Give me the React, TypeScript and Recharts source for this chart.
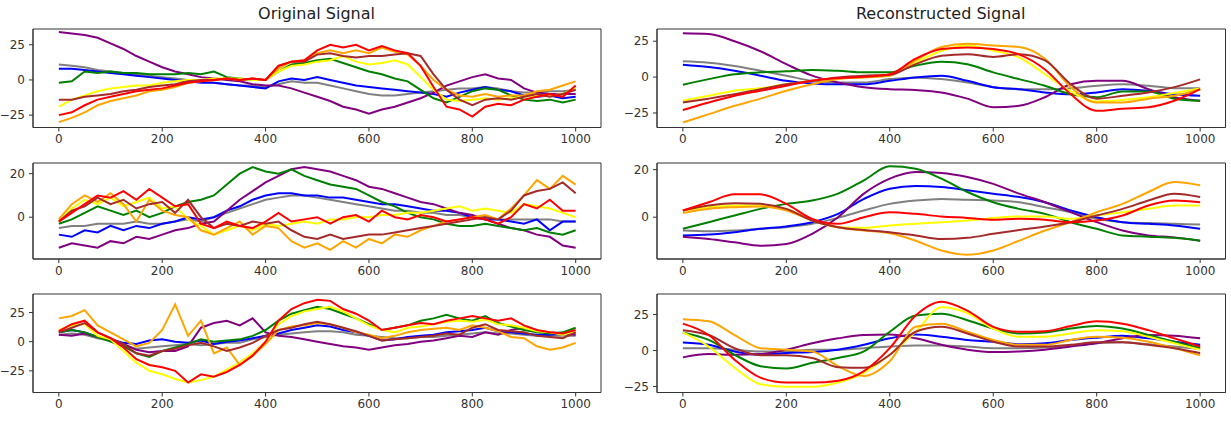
import {LineChart, Line, XAxis, YAxis, ReferenceArea} from "recharts";

// x positions of the read-off points
const X_ORIG = [0, 25, 50, 75, 100, 125, 150, 175, 200, 225, 250, 275, 300, 325, 350, 375, 400, 425, 450, 475, 500,
    525, 550, 575, 600, 625, 650, 675, 700, 725, 750, 775, 800, 825, 850, 875, 900, 925, 950, 975, 1000];
const X_REC = [0, 50, 100, 150, 200, 250, 300, 350, 400, 450, 500, 550, 600, 650, 700, 750, 800, 850, 900, 950, 1000];
const X_TICKS = [0, 200, 400, 600, 800, 1000];

// row 1, original
const o1Purple = [34, 33, 32, 30, 26, 22, 17, 13, 9, 6, 4, 2, 1, 0, -1, -3, -4, -4, -6, -9, -12, -15, -19, -21, -24, -21, -19, -16, -13, -9, -4, -1, 2, 4, 1, 0, -6, -9, -10, -10, -10];
const o1Green = [-2, -1, 6, 5, 6, 5, 5, 4, 4, 4, 5, 4, 6, 2, 1, 0, 0, 6, 11, 12, 14, 15, 12, 9, 6, 4, 1, -1, -7, -13, -16, -12, -8, -6, -7, -11, -14, -15, -14, -16, -14];
const o1Blue = [8, 8, 7, 6, 5, 4, 3, 2, 1, 0, -1, -2, -2, -3, -4, -5, -6, -1, 1, 0, 2, 0, -2, -4, -5, -6, -7, -8, -9, -10, -12, -9, -7, -5, -7, -8, -11, -12, -11, -13, -12];
const o1Gray = [11, 10, 9, 7, 6, 5, 4, 3, 2, 1, 0, -1, -2, -3, -4, -4, -5, -3, -1, -2, -2, -4, -6, -8, -10, -11, -11, -10, -9, -8, -7, -6, -6, -5, -6, -8, -9, -9, -8, -8, -7];
const o1Yellow = [-19, -14, -11, -8, -6, -5, -4, -4, -2, -1, 0, 0, 1, 1, 1, 0, 0, 6, 10, 11, 13, 14, 17, 13, 11, 12, 14, 11, 2, -7, -14, -15, -14, -13, -14, -13, -12, -11, -11, -10, -6];
const o1Orange = [-30, -27, -23, -18, -15, -13, -11, -8, -7, -5, -2, -1, 0, 1, 0, 1, 0, 8, 13, 14, 19, 21, 19, 21, 19, 23, 20, 18, 10, 0, -7, -11, -12, -10, -12, -11, -11, -8, -7, -4, -1];
const o1Red = [-25, -23, -18, -14, -12, -10, -8, -7, -6, -4, -2, -1, 0, 1, 0, 1, 0, 10, 13, 14, 21, 25, 23, 25, 21, 24, 21, 19, 10, -5, -19, -21, -26, -19, -17, -18, -14, -12, -10, -12, -4];
const o1Brown = [-14, -14, -12, -11, -10, -8, -7, -5, -4, -3, -1, 0, 0, 1, 0, 1, 0, 10, 13, 13, 18, 19, 17, 16, 17, 17, 18, 19, 17, 4, -7, -14, -18, -14, -13, -14, -12, -10, -12, -10, -7];

// row 1, reconstructed
const r1Purple = [30.5, 30, 25, 18, 9, 1, -3.7, -7, -8.4, -9, -10.7, -15, -21, -20, -14, -5, -2.6, -2.6, -8.4, -14, -16.5];
const r1Green = [-5.3, -1.4, 2, 3.3, 4, 5, 4.4, 3.3, 3.3, 8, 10.7, 9, 3.3, -1.4, -6, -12, -14, -10, -10, -15, -16.5];
const r1Blue = [8.6, 7, 4.4, 1, -2.6, -4.4, -5, -5, -2.6, -0.2, 1, -2.6, -7, -8.4, -10.7, -12, -10.7, -8.4, -9.5, -12, -13];
const r1Gray = [11, 10, 7.7, 4.4, 1, -2.6, -3.7, -3.7, -1.4, -0.2, -1.4, -3.7, -7, -8.4, -8.4, -7.7, -6, -5, -6, -7.7, -7.7];
const r1Yellow = [-16.3, -13, -9.5, -7.7, -5, -2.6, -0.7, 0.2, 2, 10, 18.4, 22, 18.4, 13.7, 2, -10, -17, -16, -14, -11, -8];
const r1Orange = [-31.6, -25.8, -20, -15, -9.5, -5, -1.4, -0.2, 1, 11.6, 21, 23.3, 22, 21, 12.8, -7, -17.7, -17.7, -15, -13, -8.4];
const r1Red = [-23, -17.7, -13, -9.5, -6, -2.6, -0.7, 0.2, 2, 12.8, 19.5, 20.7, 19.5, 15.8, 5.3, -12, -23.5, -22, -21, -16.5, -8.4];
const r1Brown = [-17.7, -15, -12, -8.4, -5, -2.6, -0.2, 1, 1.6, 9, 14.9, 16, 14, 16, 11.6, -5, -15, -13, -10.7, -7, -1.6];

// row 2, original
const o2Purple = [-14, -12, -13, -14, -11, -12, -9, -10, -8, -6, -5, -3, -2, 3, 8, 12, 16, 19, 22, 23, 22, 21, 19, 17, 14, 13, 11, 9, 7, 6, 4, 2, 1, -1, -3, -5, -6, -8, -9, -13, -14];
const o2Green = [-3, -1, 2, 5, 3, 1, 3, 0, 2, 5, 7, 8, 10, 15, 20, 23, 21, 20, 22, 19, 17, 15, 14, 13, 10, 7, 5, 2, 0, -1, -3, -4, -4, -3, -4, -5, -6, -5, -7, -8, -6];
const o2Blue = [-8, -9, -6, -7, -4, -6, -4, -5, -3, -2, 0, -1, 0, 3, 5, 8, 10, 11, 11, 10, 10, 9, 9, 8, 7, 6, 6, 5, 4, 3, 3, 2, 0, -1, -1, -2, -3, -1, -6, -2, -2];
const o2Gray = [-5, -4, -4, -3, -3, -3, -2, -3, -3, -2, -1, -2, 0, 2, 4, 6, 8, 9, 10, 10, 9, 8, 7, 6, 5, 4, 3, 3, 2, 2, 1, 1, 0, 0, -1, -1, -1, -1, -1, -2, -2];
const o2Yellow = [-2, 4, 8, 6, 9, 5, 7, 9, 4, 5, -1, -4, -8, -6, -4, -6, -3, -4, -3, -2, -3, -1, -1, 0, 0, 1, 1, 2, 2, 3, 4, 5, 3, 4, 3, 2, 6, 5, 4, 2, 0];
const o2Orange = [-1, 6, 10, 7, 11, 6, -2, 8, 3, 1, 0, -6, -8, -5, -2, -8, -4, -5, -11, -14, -12, -15, -11, -14, -10, -12, -8, -9, -6, -4, -2, -1, 0, 1, -1, 4, 10, 17, 13, 19, 15];
const o2Red = [-2, 2, 6, 10, 9, 12, 8, 13, 9, 5, 6, -3, -5, -2, -4, -5, -2, 2, -2, -1, 0, -3, 0, 1, -2, 3, 0, -1, 1, 0, -2, -1, 0, -1, -3, 0, 6, 4, 8, 3, 3];
const o2Brown = [-2, 3, 5, 9, 6, 8, 4, 6, 7, 2, 8, 0, -5, -3, -4, -2, -3, -2, -6, -9, -10, -8, -10, -9, -8, -8, -7, -6, -5, -4, -3, -2, -1, 0, -1, 3, 10, 12, 13, 16, 11];

// row 2, reconstructed
const r2Purple = [-8.2, -9.2, -10.6, -12, -11.3, -7, 0, 9.9, 16.2, 19, 18.6, 16.9, 14, 9.9, 6.3, 2.1, -2.1, -5.6, -7.7, -8.5, -9.9];
const r2Green = [-4.9, -2.1, 0.7, 3.5, 5.6, 7, 9.9, 15.5, 21.4, 20.4, 16.2, 10.6, 6.3, 3.5, 1.4, -2.1, -4.9, -7.7, -8.2, -8.7, -9.9];
const r2Blue = [-7.7, -7.3, -6.3, -4.9, -3.9, -2.1, 1.4, 7.7, 12, 13.1, 12.7, 11.3, 9.9, 8.5, 6.3, 2.8, 0, -2.1, -2.8, -3.5, -4.9];
const r2Gray = [-5.6, -5.9, -5.6, -4.9, -4.2, -2.8, -0.3, 2.8, 5.6, 7, 7.7, 7.3, 7, 6.3, 4.2, 2.1, -0.7, -2.1, -2.5, -2.8, -3.1];
const r2Yellow = [2.8, 4.2, 4.9, 4.9, 3.5, -1.4, -4.2, -4.5, -3.5, -2.8, -2.1, -1.4, -0.3, 0.3, 0.3, -0.7, 0.7, 2.1, 3.5, 4.9, 4.9];
const r2Orange = [1.7, 3.5, 4.2, 4.5, 2.8, -1.4, -4.2, -5.6, -6.8, -9.9, -14, -15.8, -14, -9.9, -5.6, -2.1, 2.1, 5.6, 10.6, 14.8, 13.4];
const r2Red = [2.8, 6.3, 9.6, 9.6, 5.6, -0.7, -2.8, 0, 2.1, 1.4, 0.3, -0.3, -1.1, -0.7, -1.1, -2.1, -1.4, 0.7, 4.9, 7, 6.3];
const r2Brown = [2.8, 4.9, 5.9, 5.6, 3.5, -1.4, -4.2, -5.4, -6.3, -7.7, -9.2, -8.7, -7, -5.4, -3.9, -2.1, 0.7, 3.5, 7, 9.9, 8.5];

// row 3, original
const o3Purple = [6, 5, 7, 4, 2, -2, -7, -9, -8, -8, -4, 12, 16, 18, 14, 20, 8, 5, 4, 2, 0, -2, -4, -5, -7, -5, -3, -2, 0, 1, 3, 5, 4, 8, 6, 10, 12, 9, 8, 7, 6];
const o3Green = [8, 10, 8, 4, 0, -4, -10, -13, -8, -5, -2, 2, 0, 1, 2, 5, 10, 18, 24, 27, 30, 28, 24, 20, 15, 10, 12, 14, 18, 20, 23, 20, 18, 22, 16, 13, 10, 8, 7, 8, 12];
const o3Blue = [8, 10, 8, 4, 2, -1, -2, 1, 2, 0, -1, 1, -2, 0, 1, 3, 5, 7, 10, 12, 14, 13, 10, 8, 5, 1, 2, 4, 5, 6, 8, 9, 10, 12, 9, 8, 7, 6, 6, 7, 8];
const o3Gray = [6, 7, 6, 3, 1, -3, -6, -5, -4, -3, -2, -3, -2, -1, -1, 2, 4, 6, 7, 8, 9, 9, 8, 6, 5, 4, 3, 3, 4, 4, 5, 6, 7, 8, 7, 7, 6, 5, 5, 5, 5];
const o3Yellow = [10, 14, 15, 5, 2, -8, -18, -25, -28, -32, -35, -33, -30, -24, -18, -10, 0, 15, 22, 26, 28, 30, 26, 20, 14, 10, 8, 12, 13, 15, 17, 18, 17, 19, 15, 14, 12, 9, 8, 6, 9];
const o3Orange = [20, 22, 27, 14, 8, 2, -4, -1, 10, 32, 5, 18, -10, -5, -20, -12, -2, 10, 13, 14, 16, 15, 12, 8, 6, 3, 5, 8, 10, 11, 12, 10, 14, 12, 9, 4, 3, -4, -7, -5, -1];
const o3Red = [9, 15, 18, 8, 3, -5, -15, -20, -22, -25, -35, -28, -30, -26, -20, -12, 0, 18, 28, 33, 36, 35, 28, 24, 18, 10, 12, 14, 16, 15, 18, 20, 22, 20, 18, 20, 14, 10, 8, 7, 10];
const o3Brown = [8, 12, 16, 8, 3, -2, -10, -12, -8, -6, -3, -1, -4, -8, -5, -1, 5, 10, 12, 15, 17, 15, 12, 9, 5, 1, 2, 3, 4, 5, 7, 6, 12, 15, 10, 9, 8, 5, 4, 3, 8];

// row 3, reconstructed
const r3Purple = [-4.8, -2.5, -3, -2.5, 0.5, 5, 8.4, 10.7, 11, 8.4, 3.9, 0.5, -1.1, -0.7, 0.5, 2.7, 5, 8.4, 10.7, 10.2, 8.4];
const r3Green = [12.5, 7.3, -3, -10.9, -12.5, -8.6, -5.2, -0.7, 13, 24.3, 25.5, 21, 15.2, 11.8, 12.5, 15.2, 17, 15.2, 10.7, 6.1, 1.6];
const r3Blue = [5.5, 3.9, -0.7, -3, -1.8, -1.1, 0.5, 3.9, 8.4, 11, 9.5, 7.3, 6.1, 4.3, 5, 7.3, 8.9, 10.2, 8.4, 6.1, 3.9];
const r3Gray = [1.6, 1.6, 0.5, -0.7, -0.7, 0.5, 0.5, 1.6, 2.7, 3.4, 3.4, 2.7, 1.6, 1.6, 2, 3.4, 5, 5.7, 4.3, 2.7, 1.1];
const r3Yellow = [12.5, 2.7, -12, -23.4, -25.2, -25.2, -22.3, -15.5, -3, 13, 30, 26, 15.2, 9.5, 9.5, 11.8, 14.1, 13.4, 9.5, 5, 0.5];
const r3Orange = [21.6, 20.2, 10.7, 1.6, 0.5, -0.7, -10.9, -17.7, -7.5, 16.4, 18.6, 13, 7.3, 3.9, 3.9, 7.3, 9.5, 8.9, 6.1, 1.6, -3.4];
const r3Red = [18.6, 10.7, -6.4, -18.9, -22.3, -22.3, -21, -14.3, 1.6, 24.3, 33.9, 27.7, 16.4, 13, 13.4, 17, 20.2, 18.6, 14.1, 8.4, 2.7];
const r3Brown = [14.1, 10.7, 1.6, -3.4, -3.4, -5.2, -11.6, -12, -3, 13, 16.4, 11.8, 6.1, 2.7, 2.7, 3.9, 5.7, 5.7, 3.9, 1.6, -1.8];

const COLORS: Record<string, string> = {
    gray: "#808080",
    blue: "#0000ff",
    purple: "#800080",
    green: "#008000",
    yellow: "#ffff00",
    orange: "#ffa500",
    brown: "#a52a2a",
    red: "#ff0000",
};
const ORDER = ["gray", "blue", "purple", "green", "yellow", "orange", "brown", "red"];

const FONT = "'DejaVu Sans', sans-serif";
const INK = "#333";

interface Frame {
    x0: number;
    x1: number;
    y0: number;
    y1: number;
}

interface PanelProps {
    xs: number[];
    series: Record<string, number[]>;
    domain: [number, number];
    yTicks: number[];
    frame: Frame;
    smooth?: boolean;
}

const fmt = (v: number) => (v < 0 ? `\u2212${Math.abs(v)}` : `${v}`);

function Panel({xs, series, domain, yTicks, frame, smooth}: PanelProps) {
    const rows = xs.map((x, i) => {
        const row: Record<string, number> = {x};
        ORDER.forEach((k) => (row[k] = series[k][i]));
        return row;
    });
    const yw = 45;
    const w = frame.x1 - frame.x0 + yw + 6;
    const h = frame.y1 - frame.y0 + 5 + 25;

    return (
        <div style={{position: "absolute", left: frame.x0 - yw, top: frame.y0 - 5}}>
            <LineChart width={w} height={h} data={rows} margin={{top: 5, right: 6, bottom: 0, left: 0}}>
                <XAxis
                    type="number"
                    dataKey="x"
                    domain={[-50, 1049]}
                    ticks={X_TICKS}
                    interval={0}
                    allowDataOverflow
                    height={25}
                    tickSize={4}
                    tickMargin={3}
                    stroke={INK}
                    tick={{fontSize: 12, fill: INK, fontFamily: FONT}}
                />
                <YAxis
                    type="number"
                    domain={domain}
                    ticks={yTicks}
                    interval={0}
                    allowDataOverflow
                    width={yw}
                    tickSize={4}
                    tickMargin={4}
                    stroke={INK}
                    tickFormatter={fmt}
                    tick={{fontSize: 12, fill: INK, fontFamily: FONT}}
                />
                {ORDER.map((k) => (
                    <Line
                        key={k}
                        dataKey={k}
                        type={smooth ? "monotone" : "linear"}
                        stroke={COLORS[k]}
                        strokeWidth={2}
                        dot={false}
                        isAnimationActive={false}
                    />
                ))}
                <ReferenceArea
                    x1={-50}
                    x2={1049}
                    y1={domain[0]}
                    y2={domain[1]}
                    fill="none"
                    stroke={INK}
                    strokeWidth={1}
                    ifOverflow="visible"
                />
            </LineChart>
        </div>
    );
}

const LEFT = {x0: 32.5, x1: 600.5};
const RIGHT = {x0: 656.5, x1: 1225};
const ROWS = [
    {y0: 29, y1: 127.5},
    {y0: 162.5, y1: 258.5},
    {y0: 294, y1: 392.5},
];

function Title({text, cx}: {text: string; cx: number}) {
    return (
        <div
            style={{
                position: "absolute",
                left: cx - 200,
                top: 5,
                width: 400,
                textAlign: "center",
                fontFamily: FONT,
                fontSize: 16,
                lineHeight: "18px",
                color: "#222",
            }}
        >
            {text}
        </div>
    );
}

export default function App() {
    return (
        <div
            style={{
                position: "absolute",
                left: 0,
                top: 0,
                width: 1231,
                height: 422,
                background: "#fff",
                overflow: "hidden",
            }}
        >
            <Title text="Original Signal" cx={(LEFT.x0 + LEFT.x1) / 2}/>
            <Title text="Reconstructed Signal" cx={(RIGHT.x0 + RIGHT.x1) / 2}/>

            <Panel xs={X_ORIG} frame={{...LEFT, ...ROWS[0]}} domain={[-33.8, 36.2]} yTicks={[-25, 0, 25]}
                   series={{purple: o1Purple, green: o1Green, blue: o1Blue, gray: o1Gray, yellow: o1Yellow, orange: o1Orange, red: o1Red, brown: o1Brown}}/>
            <Panel xs={X_REC} smooth frame={{...RIGHT, ...ROWS[0]}} domain={[-35.1, 33.5]} yTicks={[-25, 0, 25]}
                   series={{purple: r1Purple, green: r1Green, blue: r1Blue, gray: r1Gray, yellow: r1Yellow, orange: r1Orange, red: r1Red, brown: r1Brown}}/>

            <Panel xs={X_ORIG} frame={{...LEFT, ...ROWS[1]}} domain={[-19.2, 24.9]} yTicks={[0, 20]}
                   series={{purple: o2Purple, green: o2Green, blue: o2Blue, gray: o2Gray, yellow: o2Yellow, orange: o2Orange, red: o2Red, brown: o2Brown}}/>
            <Panel xs={X_REC} smooth frame={{...RIGHT, ...ROWS[1]}} domain={[-17.6, 22.8]} yTicks={[0, 20]}
                   series={{purple: r2Purple, green: r2Green, blue: r2Blue, gray: r2Gray, yellow: r2Yellow, orange: r2Orange, red: r2Red, brown: r2Brown}}/>

            <Panel xs={X_ORIG} frame={{...LEFT, ...ROWS[2]}} domain={[-43.6, 40.9]} yTicks={[-25, 0, 25]}
                   series={{purple: o3Purple, green: o3Green, blue: o3Blue, gray: o3Gray, yellow: o3Yellow, orange: o3Orange, red: o3Red, brown: o3Brown}}/>
            <Panel xs={X_REC} smooth frame={{...RIGHT, ...ROWS[2]}} domain={[-29.2, 39.2]} yTicks={[-25, 0, 25]}
                   series={{purple: r3Purple, green: r3Green, blue: r3Blue, gray: r3Gray, yellow: r3Yellow, orange: r3Orange, red: r3Red, brown: r3Brown}}/>
        </div>
    );
}
